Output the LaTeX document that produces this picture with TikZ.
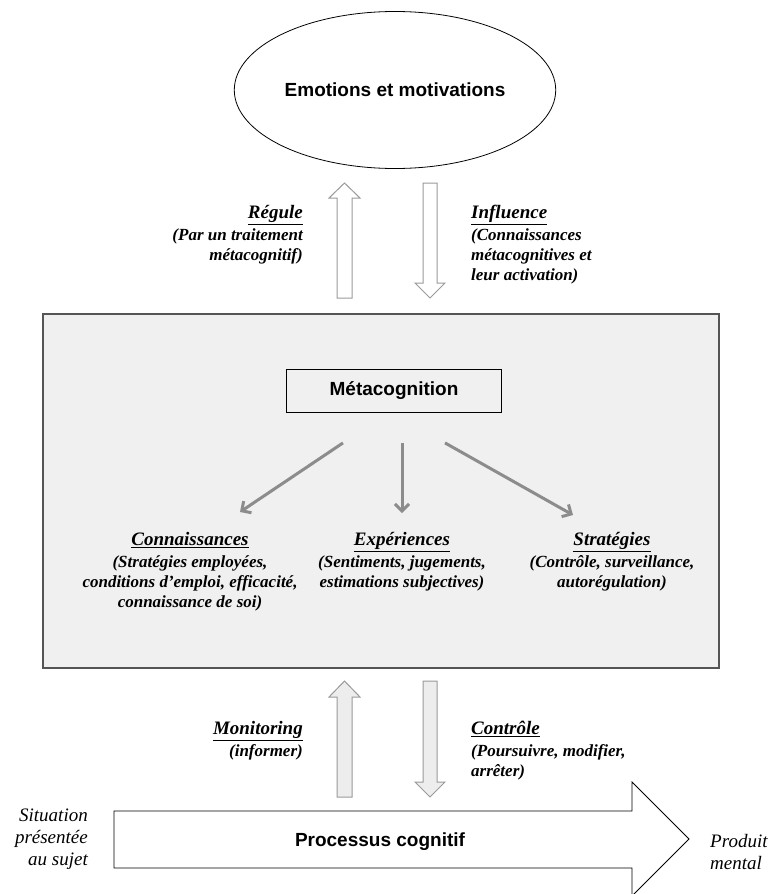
\documentclass[tikz,border=0pt]{standalone}
\usepackage{fontspec}
\setmainfont{Liberation Serif}
\setsansfont{Liberation Sans}
\usetikzlibrary{shapes.geometric, arrows.meta, positioning}

\definecolor{boxgray}{HTML}{F0F0F0}
\definecolor{edgegray}{HTML}{555555}
\definecolor{arrowgray}{HTML}{8C8C8C}
\definecolor{blockgray}{HTML}{9A9A9A}
\definecolor{blockfill}{HTML}{EDEDED}

\newcommand{\ttl}[1]{\underline{\fontsize{19}{21}\selectfont #1}}

\tikzset{
  headline/.style={font=\sffamily\bfseries\fontsize{19}{23}\selectfont},
  lbl/.style={font=\bfseries\itshape\fontsize{17}{20}\selectfont, inner sep=0pt},
  sidetext/.style={font=\itshape\fontsize{19}{22}\selectfont, inner sep=0pt},
  hollow/.style={draw=blockgray, fill=white, line width=1pt},
  shaded/.style={draw=blockgray, fill=blockfill, line width=1pt},
  metaarrow/.style={draw=arrowgray, line width=3pt, -{Straight Barb[length=7pt,width=14pt]}},
}

\begin{document}
\begin{tikzpicture}[x=1pt, y=-1pt]
  \useasboundingbox (0,0) rectangle (776,894);

  % emotions
  \node[ellipse, draw, line width=0.8pt, minimum width=302pt, minimum height=157pt, headline] (emo) at (395,90) {Emotions et motivations};

  % metacognition area
  \node[draw=edgegray, line width=2pt, fill=boxgray, minimum width=676pt, minimum height=354pt, anchor=north west] (area) at (42,313) {};
  \node[draw, line width=0.8pt, minimum width=215pt, minimum height=43pt, headline] (mc) at (394,391) {Métacognition};

  % three components
  \node[lbl, align=center, anchor=north] (conn) at (190,532) {\ttl{Connaissances}\\[2pt](Stratégies employées,\\conditions d’emploi, efficacité,\\connaissance de soi)};
  \node[lbl, align=center, anchor=north] (exp) at (402,532) {\ttl{Expériences}\\[2pt](Sentiments, jugements,\\estimations subjectives)};
  \node[lbl, align=center, anchor=north] (strat) at (612,532) {\ttl{Stratégies}\\[2pt](Contrôle, surveillance,\\autorégulation)};

  \draw[metaarrow] ([xshift=-51pt, yshift=-30pt]mc.south) -- ([xshift=50pt, yshift=20pt]conn.north);
  \draw[metaarrow] ([xshift=8pt, yshift=-30pt]mc.south) -- ([yshift=19pt]exp.north);
  \draw[metaarrow] ([xshift=51pt, yshift=-30pt]mc.south) -- ([xshift=-39pt, yshift=17pt]strat.north);

  % upper block arrows
  \draw[hollow] (337,298) -- (337,198) -- (329,198) -- (344.5,183) -- (360,198) -- (352,198) -- (352,298) -- cycle;
  \draw[hollow] (423,183) -- (437,183) -- (437,283) -- (445,283) -- (430,298) -- (415,283) -- (423,283) -- cycle;

  \node[lbl, align=right, anchor=north east] (reg) at (303,205) {\ttl{Régule}\\[2pt](Par un traitement\\métacognitif)};
  \node[lbl, align=left, anchor=north west] (infl) at (471,205) {\ttl{Influence}\\[2pt](Connaissances\\métacognitives et\\leur activation)};

  % lower block arrows
  \draw[shaded] (337,797) -- (337,697) -- (329,697) -- (344.5,681) -- (360,697) -- (352,697) -- (352,797) -- cycle;
  \draw[shaded] (423,681) -- (437,681) -- (437,782) -- (445,782) -- (430,797) -- (415,782) -- (423,782) -- cycle;

  \node[lbl, align=right, anchor=north east] (moni) at (303,721) {\ttl{Monitoring}\\[2pt](informer)};
  \node[lbl, align=left, anchor=north west] (ctrl) at (471,721) {\ttl{Contrôle}\\[2pt](Poursuivre, modifier,\\arrêter)};

  % cognitive process
  \draw[line width=0.8pt, fill=white] (114,811) -- (632,811) -- (632,782) -- (689,839) -- (632,896) -- (632,868) -- (114,868) -- cycle;
  \node[headline] (proc) at (380,842) {Processus cognitif};
  \node[sidetext, align=right, anchor=east] (sit) at (88,839) {Situation\\présentée\\au sujet};
  \node[sidetext, align=left, anchor=west] (prod) at (710,852) {Produit\\mental};
\end{tikzpicture}
\end{document}
